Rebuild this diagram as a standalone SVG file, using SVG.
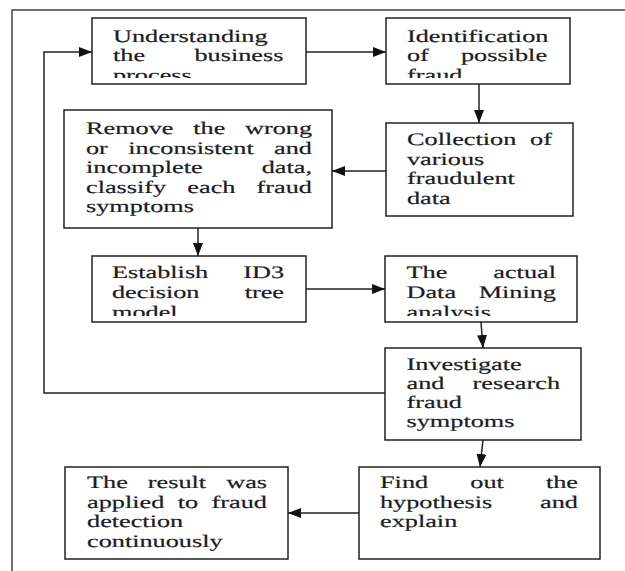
<svg xmlns="http://www.w3.org/2000/svg" width="625" height="571" viewBox="0 0 625 571">
<style>
.box{fill:#fff;stroke:#222;stroke-width:1.5}
.t{font-family:"Liberation Serif","Times New Roman",serif;font-size:17.5px;fill:#1c1c24;stroke:#1c1c24;stroke-width:0.2px;text-rendering:geometricPrecision}
.c{fill:none;stroke:#222;stroke-width:1.5}
.frame{fill:none;stroke:#444;stroke-width:1.5}
</style>
<defs>
<marker id="ah" markerUnits="userSpaceOnUse" markerWidth="13" markerHeight="10" refX="13" refY="5" orient="auto">
<path d="M0,0 L13,5 L0,10 z" fill="#111"/>
</marker>
<clipPath id="cp1"><rect x="92" y="18" width="214" height="60"/></clipPath>
<clipPath id="cp2"><rect x="386" y="18" width="184" height="60"/></clipPath>
<clipPath id="cp5"><rect x="92" y="256" width="214" height="60"/></clipPath>
<clipPath id="cp6"><rect x="385" y="256" width="192" height="60"/></clipPath>
</defs>
<rect width="625" height="571" fill="#fff"/>
<path class="frame" d="M12,571 L12,10 L625,10"/>

<g id="connectors">
<line class="c" x1="306" y1="52" x2="386" y2="52" marker-end="url(#ah)"/>
<line class="c" x1="479" y1="84" x2="479" y2="123" marker-end="url(#ah)"/>
<line class="c" x1="386" y1="171" x2="332" y2="171" marker-end="url(#ah)"/>
<line class="c" x1="198" y1="228" x2="198" y2="256" marker-end="url(#ah)"/>
<line class="c" x1="306" y1="289" x2="385" y2="289" marker-end="url(#ah)"/>
<line class="c" x1="481" y1="322" x2="483" y2="348" marker-end="url(#ah)"/>
<path class="c" d="M385,393 L44,393 L44,52 L92,52" marker-end="url(#ah)"/>
<line class="c" x1="483" y1="440" x2="480" y2="467" marker-end="url(#ah)"/>
<line class="c" x1="359" y1="513" x2="288" y2="513" marker-end="url(#ah)"/>
</g>

<g id="n1">
<rect class="box" x="92" y="18" width="214" height="66"/>
<g clip-path="url(#cp1)"><g transform="scale(1.5,1)">
<text class="t" y="41.5"><tspan x="75.33">Understanding</tspan></text>
<text class="t" y="61"><tspan x="75.33">the</tspan><tspan x="129.67">business</tspan></text>
<text class="t" y="80.5"><tspan x="75.33">process</tspan></text>
</g></g>
</g>

<g id="n2">
<rect class="box" x="386" y="18" width="184" height="66"/>
<g clip-path="url(#cp2)"><g transform="scale(1.5,1)">
<text class="t" y="41.5"><tspan x="271.33">Identification</tspan></text>
<text class="t" y="61"><tspan x="271.33">of</tspan><tspan x="307.33">possible</tspan></text>
<text class="t" y="80.5"><tspan x="271.33">fraud</tspan></text>
</g></g>
</g>

<g id="n3">
<rect class="box" x="386" y="123" width="187" height="93"/>
<g transform="scale(1.5,1)">
<text class="t" y="145"><tspan x="271.33">Collection</tspan><tspan x="353.4">of</tspan></text>
<text class="t" y="164.5"><tspan x="271.33">various</tspan></text>
<text class="t" y="184"><tspan x="271.33">fraudulent</tspan></text>
<text class="t" y="203.5"><tspan x="271.33">data</tspan></text>
</g>
</g>

<g id="n4">
<rect class="box" x="64" y="110" width="268" height="118"/>
<g transform="scale(1.5,1)">
<text class="t" y="134"><tspan x="57.33">Remove</tspan><tspan x="128.83">the</tspan><tspan x="163.33">wrong</tspan></text>
<text class="t" y="153.5"><tspan x="57.33">or</tspan><tspan x="85.53">inconsistent</tspan><tspan x="182.73">and</tspan></text>
<text class="t" y="173"><tspan x="57.33">incomplete</tspan><tspan x="174.47">data,</tspan></text>
<text class="t" y="192.5"><tspan x="57.33">classify</tspan><tspan x="124.9">each</tspan><tspan x="171.07">fraud</tspan></text>
<text class="t" y="211.5"><tspan x="57.33">symptoms</tspan></text>
</g>
</g>

<g id="n5">
<rect class="box" x="92" y="256" width="214" height="66"/>
<g clip-path="url(#cp5)"><g transform="scale(1.5,1)">
<text class="t" y="278"><tspan x="74.67">Establish</tspan><tspan x="162.13">ID3</tspan></text>
<text class="t" y="297.5"><tspan x="74.67">decision</tspan><tspan x="163.13">tree</tspan></text>
<text class="t" y="317.5"><tspan x="74.67">model</tspan></text>
</g></g>
</g>

<g id="n6">
<rect class="box" x="385" y="256" width="192" height="66"/>
<g clip-path="url(#cp6)"><g transform="scale(1.5,1)">
<text class="t" y="278"><tspan x="271">The</tspan><tspan x="328.87">actual</tspan></text>
<text class="t" y="297.5"><tspan x="271">Data</tspan><tspan x="319.13">Mining</tspan></text>
<text class="t" y="317.5"><tspan x="271">analysis</tspan></text>
</g></g>
</g>

<g id="n7">
<rect class="box" x="385" y="348" width="196" height="92"/>
<g transform="scale(1.5,1)">
<text class="t" y="370"><tspan x="271">Investigate</tspan></text>
<text class="t" y="389"><tspan x="271">and</tspan><tspan x="315.07">research</tspan></text>
<text class="t" y="408"><tspan x="271">fraud</tspan></text>
<text class="t" y="427"><tspan x="271">symptoms</tspan></text>
</g>
</g>

<g id="n8">
<rect class="box" x="359" y="467" width="241" height="92"/>
<g transform="scale(1.5,1)">
<text class="t" y="488"><tspan x="253.33">Find</tspan><tspan x="313.5">out</tspan><tspan x="363.93">the</tspan></text>
<text class="t" y="507.5"><tspan x="253.33">hypothesis</tspan><tspan x="360.07">and</tspan></text>
<text class="t" y="527"><tspan x="253.33">explain</tspan></text>
</g>
</g>

<g id="n9">
<rect class="box" x="65" y="467" width="223" height="92"/>
<g transform="scale(1.5,1)">
<text class="t" y="488"><tspan x="58">The</tspan><tspan x="98.57">result</tspan><tspan x="150.8">was</tspan></text>
<text class="t" y="507.5"><tspan x="58">applied</tspan><tspan x="118.5">to</tspan><tspan x="141.07">fraud</tspan></text>
<text class="t" y="527"><tspan x="58">detection</tspan></text>
<text class="t" y="546.5"><tspan x="58">continuously</tspan></text>
</g>
</g>
</svg>
